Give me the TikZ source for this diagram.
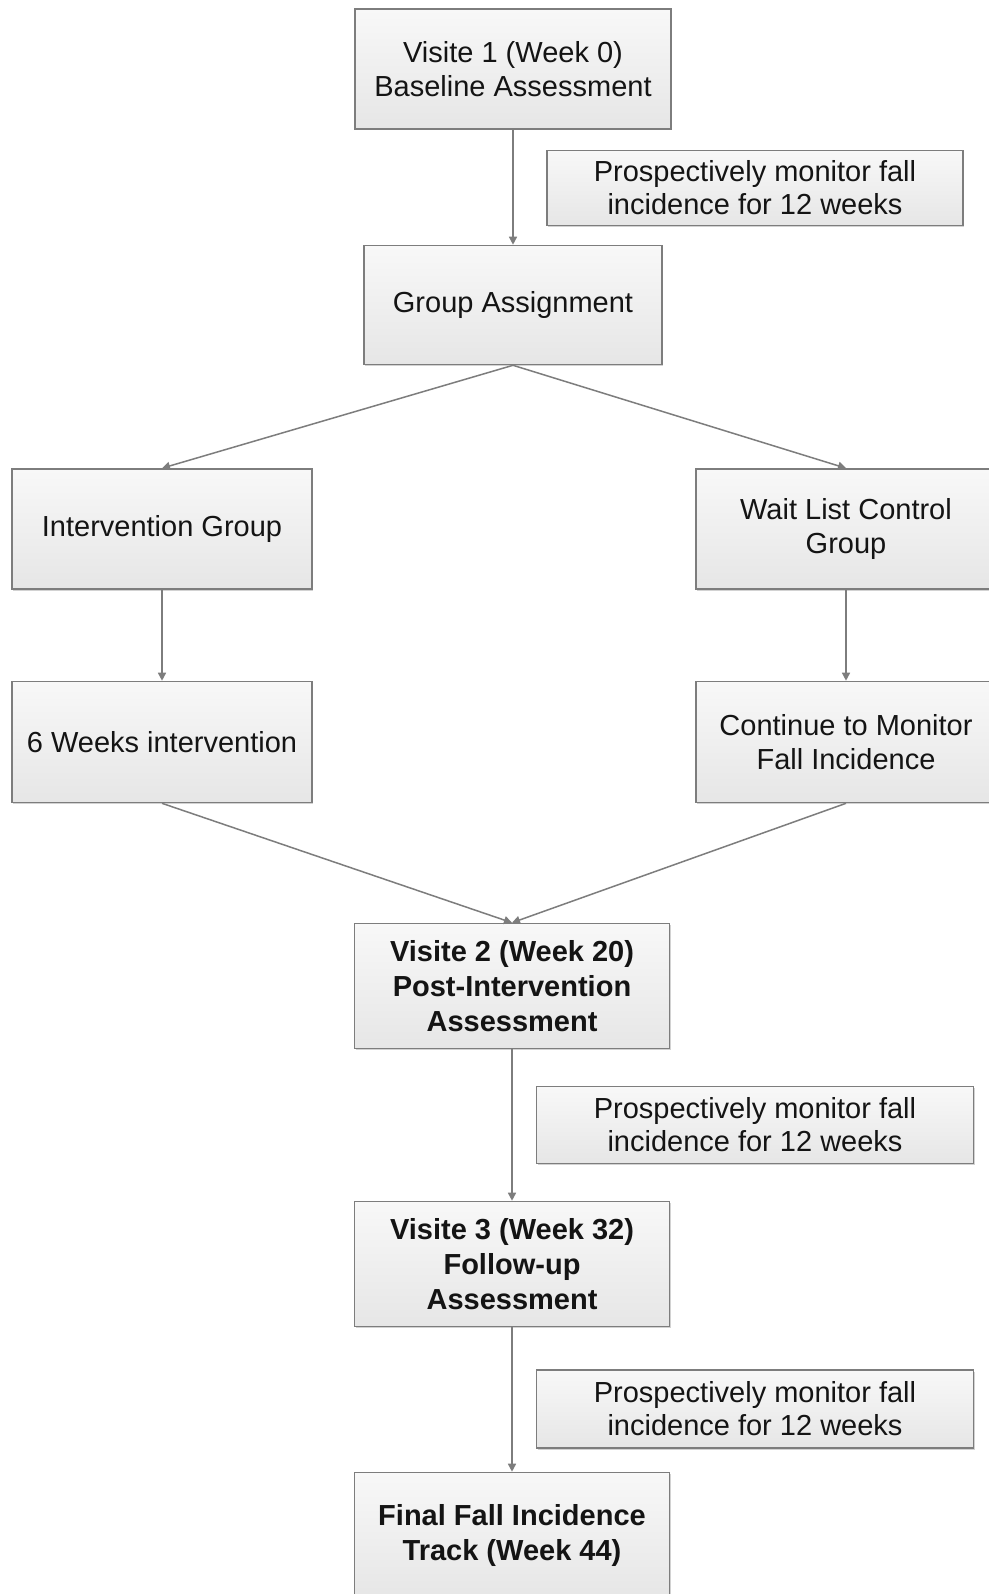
\documentclass[tikz,border=0pt]{standalone}
\usepackage{fontspec}
\setmainfont{Liberation Sans}
\usetikzlibrary{arrows.meta,shadows}
\definecolor{boxline}{RGB}{125,125,125}
\definecolor{boxtop}{RGB}{248,248,248}
\definecolor{boxbottom}{RGB}{230,230,230}
\definecolor{arrowgray}{RGB}{125,125,125}
\definecolor{txtgray}{RGB}{20,20,20}
\begin{document}
\begin{tikzpicture}[x=1pt,y=-1pt]
\tikzstyle{every node}+=[inner sep=0pt]
\tikzstyle{stage}=[draw=boxline, line width=1.6pt, top color=boxtop, bottom color=boxbottom,
  drop shadow={shadow xshift=1pt, shadow yshift=-1.5pt, opacity=0.35},
  align=center, text=txtgray, font=\fontsize{29}{34}\selectfont]
\tikzstyle{keystage}=[stage, font=\fontsize{29}{35}\selectfont\bfseries]
\tikzstyle{note}=[stage, font=\fontsize{29}{33}\selectfont]
\tikzstyle{flow}=[draw=arrowgray, line width=1.5pt, -{Triangle[length=8pt,width=8pt]}]
\useasboundingbox (0,0) rectangle (988,1594);
\fill[white] (0,0) rectangle (988,1594);
\node[stage, minimum width=316pt, minimum height=120pt] (visit1) at (513,69) {Visite 1 (Week 0)\\Baseline Assessment};
\node[note, minimum width=416pt, minimum height=75pt] (note1) at (755,188) {Prospectively monitor fall\\incidence for 12 weeks};
\node[stage, minimum width=298pt, minimum height=119pt] (assign) at (513,305) {Group Assignment};
\node[stage, minimum width=300pt, minimum height=120pt] (intgrp) at (162,529) {Intervention Group};
\node[stage, minimum width=300pt, minimum height=120pt] (waitgrp) at (846,529) {Wait List Control\\Group};
\node[stage, minimum width=300pt, minimum height=121pt] (weeks6) at (162,742) {6 Weeks intervention};
\node[stage, minimum width=300pt, minimum height=121pt] (contmon) at (846,742) {Continue to Monitor\\Fall Incidence};
\node[keystage, minimum width=315pt, minimum height=125pt] (visit2) at (512,986) {Visite 2 (Week 20)\\Post-Intervention\\Assessment};
\node[note, minimum width=437pt, minimum height=77pt] (note2) at (755,1125) {Prospectively monitor fall\\incidence for 12 weeks};
\node[keystage, minimum width=315pt, minimum height=125pt] (visit3) at (512,1264) {Visite 3 (Week 32)\\Follow-up\\Assessment};
\node[note, minimum width=437pt, minimum height=78pt] (note3) at (755,1409) {Prospectively monitor fall\\incidence for 12 weeks};
\node[keystage, minimum width=315pt, minimum height=125pt] (final) at (512,1535) {Final Fall Incidence\\Track (Week 44)};
\draw[flow] (visit1.south) -- (assign.north);
\draw[flow] (assign.south) -- (intgrp.north);
\draw[flow] (assign.south) -- (waitgrp.north);
\draw[flow] (intgrp.south) -- (weeks6.north);
\draw[flow] (waitgrp.south) -- (contmon.north);
\draw[flow] (weeks6.south) -- (visit2.north);
\draw[flow] (contmon.south) -- (visit2.north);
\draw[flow] (visit2.south) -- (visit3.north);
\draw[flow] (visit3.south) -- (final.north);
\end{tikzpicture}
\end{document}
